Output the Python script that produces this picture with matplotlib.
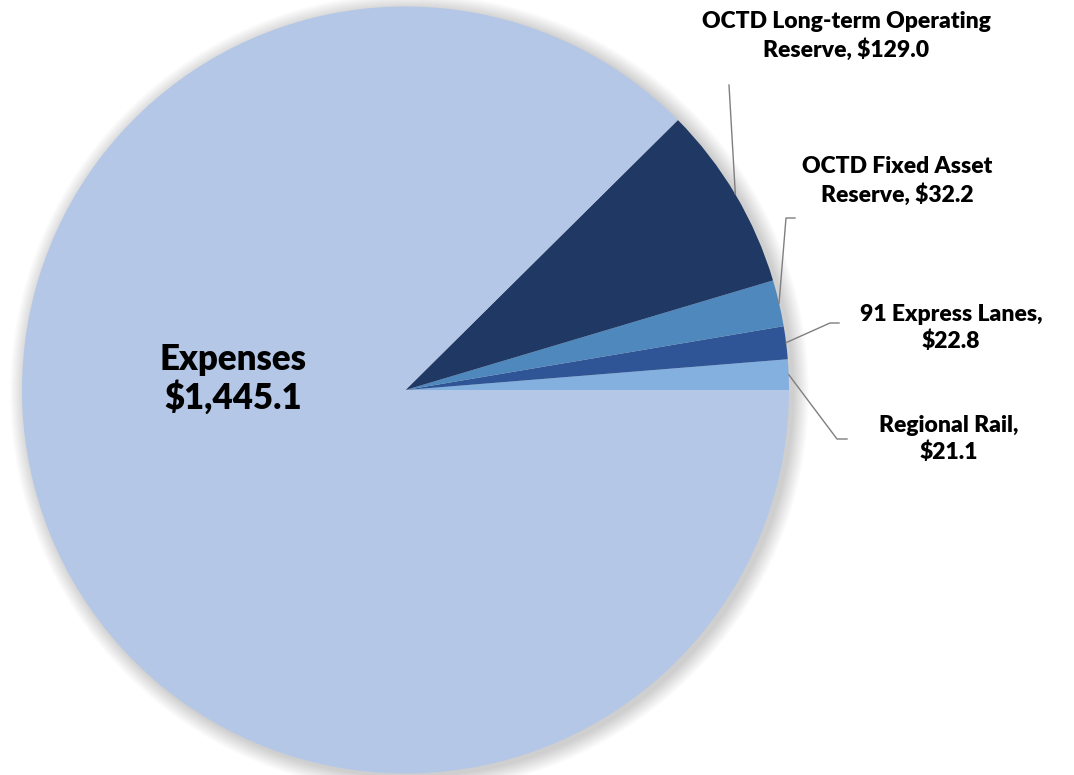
import matplotlib
matplotlib.use("Agg")
import matplotlib.pyplot as plt
from matplotlib.patches import Circle
import numpy as np

# values in $ millions, drawn counter-clockwise from 3 o'clock
names = ["Regional Rail", "91 Express Lanes", "OCTD Fixed Asset Reserve",
         "OCTD Long-term Operating Reserve", "Expenses"]
values = [21.1, 22.8, 32.2, 129.0, 1445.1]
colors = ["#84B0DF", "#2F5597", "#4E88BD", "#203864", "#B4C7E7"]
labels = ["Regional Rail,\n$21.1", "91 Express Lanes,\n$22.8",
          "OCTD Fixed Asset\nReserve, $32.2",
          "OCTD Long-term Operating\nReserve, $129.0"]

plt.rcParams['font.family'] = ['Lato', 'DejaVu Sans']

W, H = 1074, 775
fig = plt.figure(figsize=(W / 100, H / 100), dpi=100)
ax = fig.add_axes([0, 0, 1, 1])

cx, cy, r = 405.5, H - 390, 383.5

# soft shadow, mostly to the right / bottom
for i in range(16):
    ax.add_patch(Circle((cx + 4, cy - 3), r + 16 - i, color='black',
                        alpha=0.01, lw=0, zorder=0))

wedges, _ = ax.pie(values, colors=colors, startangle=0, counterclock=True,
                   radius=r, center=(cx, cy), frame=True,
                   wedgeprops=dict(linewidth=0))
ax.set_xlim(0, W)
ax.set_ylim(0, H)
ax.axis('off')

# label text centres and leader elbows (pixel coords from top)
text_pos = [(949, 439), (951, 328), (897, 181), (846, 36)]
elbows = [[(837, 439), (847, 439)], [(830, 323), (839, 323)],
          [(786, 218), (795, 218)], [(729, 85)]]

for w, lab, tp, el in zip(wedges, labels, text_pos, elbows):
    mid = np.deg2rad((w.theta1 + w.theta2) / 2)
    xs = [cx + r * np.cos(mid)] + [p[0] for p in el]
    ys = [cy + r * np.sin(mid)] + [H - p[1] for p in el]
    ax.plot(xs, ys, color='#7F7F7F', lw=1, zorder=3)
    ax.text(tp[0], H - tp[1], lab, ha='center', va='center', fontsize=16.5,
            fontweight='heavy', linespacing=1.3, color='black')

ax.text(233, H - 379, "Expenses\n$1,445.1", ha='center', va='center',
        fontsize=25, fontweight='heavy', linespacing=1.15, color='black')

fig.savefig("out.png", dpi=100)
